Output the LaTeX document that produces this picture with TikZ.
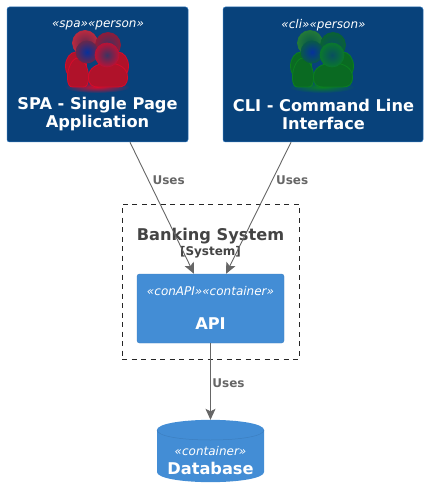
\documentclass[tikz,border=0pt]{standalone}
\usepackage{fontspec}
\setmainfont{DejaVu Sans}
\usepackage{xcolor}
\usetikzlibrary{arrows.meta}
\definecolor{personblue}{HTML}{08427B}
\definecolor{containerblue}{HTML}{438DD5}
\definecolor{rimblue}{HTML}{3C7FC0}
\definecolor{usesgray}{HTML}{666666}
\definecolor{titlegray}{HTML}{444444}
\definecolor{spared}{HTML}{B0122A}
\definecolor{cligreen}{HTML}{0A6A22}
\definecolor{spaedge}{HTML}{D80A2A}
\definecolor{cliedge}{HTML}{0A8020}
\tikzset{
  personbox/.style={draw=containerblue!70!personblue,line width=0.5pt,fill=personblue,rounded corners=2.5pt,minimum height=135pt,inner sep=0pt},
  containerbox/.style={draw=rimblue,line width=0.4pt,fill=containerblue,rounded corners=2.5pt,minimum width=147pt,minimum height=69pt,inner sep=0pt},
  stereo/.style={text=white,font=\fontsize{12}{14}\selectfont\itshape,inner sep=0pt},
  title/.style={text=white,font=\fontsize{16.2}{18}\selectfont\bfseries,align=center,inner sep=0pt},
  uses/.style={draw=usesgray,line width=0.9pt,-{Stealth[length=11pt,width=10pt,inset=2.5pt]}},
  useslabel/.style={text=usesgray,font=\fontsize{12}{14}\selectfont\bfseries,inner sep=0pt},
}
% one body of the crowd: centre x, half width, top y, fill, edge
\newcommand{\crowdbody}[5]{
  \path[draw=#5,line width=0.8pt,fill=#4]
    (#1-#2,77) .. controls (#1-#2,68) and (#1-#2*0.55,#3) .. (#1,#3)
    .. controls (#1+#2*0.55,#3) and (#1+#2,68) .. (#1+#2,77)
    .. controls (#1+#2,85) and (#1+#2*0.8,87) .. (#1+#2*0.5,87)
    -- (#1-#2*0.5,87) .. controls (#1-#2*0.8,87) and (#1-#2,85) .. (#1-#2,77) -- cycle;
}
% one head of the crowd: x, y, radius, centre, edge
\newcommand{\crowdhead}[5]{
  \shade[inner color=#4,outer color=#5,draw=#5,line width=0.7pt] (#1,#2) circle (#3);
}
% the crowd icon, drawn round x=0
\newcommand{\crowdicon}[3]{
  \begin{scope}[shift={(#1,0)}]
    \shade[inner color=#3,outer color=personblue] (0,87) ellipse (33 and 6);
    % back row
    \path[draw=#3,line width=0.8pt,fill=#2] (-21,66) ellipse (10.5 and 14);
    \path[draw=#3,line width=0.8pt,fill=#2] (21,66) ellipse (10.5 and 14);
    \crowdhead{-12}{43}{12.5}{#2!55!personblue}{#2!90!white}
    \crowdhead{11}{45}{12.5}{#2!30!personblue}{#2!80!personblue}
    % front row
    \crowdbody{-19}{10.5}{58}{#2}{#3}
    \crowdhead{-10}{52}{11}{personblue!75!blue}{#2!55!personblue}
    \crowdbody{11}{19.5}{63}{#2}{#3}
    \crowdhead{10}{55}{12}{#2!30!personblue}{#3!85!personblue}
  \end{scope}
}
\begin{document}
\begin{tikzpicture}[x=1pt,y=-1pt]
\useasboundingbox (0,0) rectangle (428,497);

% Boundary
\node[draw=black!85,line width=0.5pt,dash pattern=on 5pt off 4.5pt,minimum width=177pt,minimum height=155pt,inner sep=0pt] (bankbox) at (210.5,281.5) {};
\node[text=titlegray,font=\fontsize{16.2}{18}\selectfont\bfseries,inner sep=0pt] (banktitle) at (210.5,236) {Banking System};
\node[text=titlegray,font=\fontsize{12}{14}\selectfont\bfseries,inner sep=0pt] (banktag) at (210.5,252) {[System]};

% People
\node[personbox,minimum width=181pt] (spa) at (97.5,74.5) {};
\node[personbox,minimum width=200pt] (cli) at (323,74.5) {};
\crowdicon{97}{spared}{spaedge}
\crowdicon{322}{cligreen}{cliedge}
\node[stereo] (spatag) at (98,25) {«spa»«person»};
\node[stereo] (clitag) at (323.5,25) {«cli»«person»};
\node[title] (spaname) at (97.5,114.5) {SPA - Single Page\\Application};
\node[title] (cliname) at (323.5,114.5) {CLI - Command Line\\Interface};

% API
\node[containerbox] (api) at (210.5,308.5) {};
\node[stereo] (apitag) at (210.5,291.5) {«conAPI»«container»};
\node[title] (apiname) at (210.5,324) {API};

% Database
\node[minimum width=107pt,minimum height=62pt,inner sep=0pt] (db) at (210.5,451) {};
\fill[containerblue] (157,430) .. controls (157,424) and (180,420) .. (db.north)
  .. controls (241,420) and (264,424) .. (264,430) -- (264,472)
  .. controls (264,478) and (241,482) .. (db.south)
  .. controls (180,482) and (157,478) .. (157,472) -- cycle;
\draw[rimblue,line width=0.5pt] (157,430) .. controls (157,436) and (180,440) .. (210.5,440)
  .. controls (241,440) and (264,436) .. (264,430);
\node[stereo] (dbtag) at (210.5,451.5) {«container»};
\node[title] (dbname) at (210.5,468.5) {Database};

% Connectors
\draw[uses] ([xshift=32.5pt]spa.south) -- ([xshift=-16.5pt]api.north) node[pos=0.29,right=3.5pt,useslabel] (spauses) {Uses};
\draw[uses] ([xshift=-32pt]cli.south) -- ([xshift=15.5pt]api.north) node[pos=0.29,right=3.5pt,useslabel] (cliuses) {Uses};
\draw[uses] (api.south) -- (db.north) node[pos=0.52,right=1.5pt,useslabel] (dbuses) {Uses};
\end{tikzpicture}
\end{document}
